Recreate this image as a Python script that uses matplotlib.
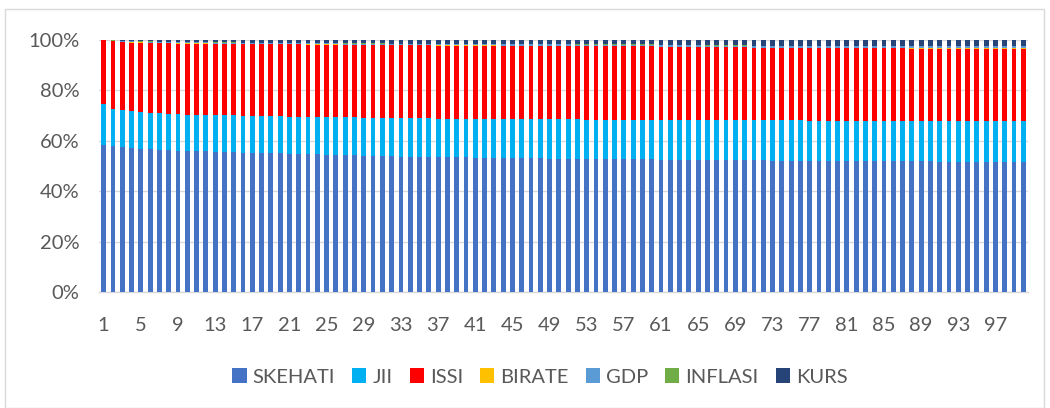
import matplotlib
matplotlib.use("Agg")
import matplotlib.pyplot as plt
from matplotlib.patches import Rectangle
import numpy as np

periods = list(range(1, 101))

skehati = [
    58.5, 57.9, 57.3, 57.0, 56.8, 56.5, 56.3, 56.2, 56.0, 55.9,
    55.8, 55.7, 55.6, 55.4, 55.3, 55.2, 55.1, 55.0, 54.9, 54.9,
    54.8, 54.7, 54.6, 54.5, 54.4, 54.3, 54.2, 54.1, 54.0, 53.9,
    53.8, 53.7, 53.6, 53.6, 53.5, 53.5, 53.5, 53.4, 53.3, 53.3,
    53.2, 53.2, 53.1, 53.1, 53.0, 53.0, 52.9, 52.9, 52.8, 52.8,
    52.8, 52.7, 52.7, 52.7, 52.6, 52.6, 52.6, 52.5, 52.5, 52.5,
    52.4, 52.4, 52.4, 52.3, 52.3, 52.3, 52.2, 52.2, 52.2, 52.1,
    52.1, 52.1, 52.0, 52.0, 52.0, 52.0, 51.9, 51.9, 51.9, 51.9,
    51.9, 51.8, 51.8, 51.8, 51.8, 51.7, 51.7, 51.7, 51.7, 51.7,
    51.6, 51.6, 51.6, 51.6, 51.6, 51.6, 51.6, 51.5, 51.5, 51.5,
]

jii = [
    16.0, 14.9, 14.7, 14.6, 14.5, 14.5, 14.5, 14.4, 14.4, 14.4,
    14.4, 14.5, 14.5, 14.6, 14.6, 14.6, 14.6, 14.7, 14.7, 14.7,
    14.7, 14.8, 14.8, 14.9, 15.0, 15.0, 15.0, 15.1, 15.1, 15.1,
    15.2, 15.2, 15.2, 15.2, 15.3, 15.3, 15.2, 15.3, 15.4, 15.4,
    15.5, 15.4, 15.5, 15.5, 15.5, 15.5, 15.6, 15.5, 15.6, 15.6,
    15.6, 15.7, 15.6, 15.6, 15.7, 15.7, 15.7, 15.8, 15.7, 15.7,
    15.8, 15.8, 15.8, 15.9, 15.9, 15.9, 15.9, 15.9, 15.9, 16.0,
    16.0, 16.0, 16.0, 16.0, 16.0, 16.0, 16.0, 16.0, 16.0, 16.0,
    16.0, 16.1, 16.1, 16.1, 16.1, 16.1, 16.1, 16.1, 16.1, 16.1,
    16.2, 16.2, 16.2, 16.2, 16.2, 16.2, 16.2, 16.3, 16.3, 16.3,
]

issi = [
    25.5, 26.7, 27.0, 27.3, 27.5, 27.7, 27.8, 28.0, 28.1, 28.2,
    28.2, 28.2, 28.2, 28.3, 28.4, 28.4, 28.5, 28.5, 28.5, 28.5,
    28.6, 28.6, 28.6, 28.6, 28.6, 28.7, 28.7, 28.7, 28.8, 28.9,
    28.8, 28.8, 28.9, 28.9, 28.9, 28.9, 28.9, 28.9, 28.9, 28.9,
    28.9, 29.0, 29.0, 28.9, 29.0, 29.0, 29.0, 29.1, 29.1, 29.1,
    29.0, 28.9, 29.0, 29.0, 29.0, 29.0, 29.0, 29.0, 29.1, 29.1,
    28.9, 28.9, 28.8, 28.8, 28.8, 28.7, 28.8, 28.8, 28.8, 28.8,
    28.6, 28.6, 28.7, 28.7, 28.7, 28.7, 28.8, 28.7, 28.7, 28.7,
    28.7, 28.7, 28.7, 28.7, 28.7, 28.7, 28.7, 28.6, 28.6, 28.6,
    28.6, 28.6, 28.6, 28.6, 28.6, 28.6, 28.6, 28.6, 28.6, 28.6,
]

birate = [0.0, 0.1] + [0.2] * 8 + [0.1] * 90

gdp = ([0.0, 0.1] + [0.3] * 8 + [0.4] * 20 + [0.5] * 20
       + [0.6] * 20 + [0.7] * 15 + [0.8] * 15)

inflasi = [0.0, 0.3] + [0.2] * 8 + [0.1] * 90

kurs = [
    0.0, 0.0, 0.2, 0.3, 0.4, 0.5, 0.6, 0.6, 0.7, 0.7,
    0.8, 0.8, 0.9, 0.9, 0.9, 1.0, 1.0, 1.0, 1.1, 1.1,
    1.1, 1.1, 1.2, 1.2, 1.2, 1.2, 1.3, 1.3, 1.3, 1.3,
    1.3, 1.4, 1.4, 1.4, 1.4, 1.4, 1.5, 1.5, 1.5, 1.5,
    1.5, 1.5, 1.5, 1.6, 1.6, 1.6, 1.6, 1.6, 1.6, 1.6,
    1.6, 1.7, 1.7, 1.7, 1.7, 1.7, 1.7, 1.7, 1.7, 1.7,
    1.9, 1.9, 2.0, 2.0, 2.0, 2.1, 2.1, 2.1, 2.1, 2.1,
    2.2, 2.2, 2.2, 2.2, 2.2, 2.2, 2.2, 2.3, 2.3, 2.3,
    2.3, 2.3, 2.3, 2.3, 2.3, 2.3, 2.3, 2.4, 2.4, 2.4,
    2.4, 2.4, 2.4, 2.4, 2.4, 2.4, 2.4, 2.4, 2.4, 2.4,
]

series_names = ["SKEHATI", "JII", "ISSI", "BIRATE", "GDP", "INFLASI", "KURS"]
series_values = [skehati, jii, issi, birate, gdp, inflasi, kurs]
series_colors = ["#4472C4", "#00B0F0", "#FF0000", "#FFC000", "#5B9BD5", "#70AD47", "#264478"]

x_tick_labels = [str(p) for p in periods[::4]]

# 100% stacked: each period's shares are rescaled to sum to one
data = np.array(series_values, dtype=float)
shares = data / data.sum(axis=0)

text_color = "#595959"
plt.rcParams["font.family"] = ["Lato", "DejaVu Sans"]

fig = plt.figure(figsize=(10.5, 4.08), dpi=100)
W, H = 1050, 408
ax = fig.add_axes([99 / W, 1 - 292 / H, (1028 - 99) / W, (292 - 40) / H])

x = np.array(periods)
bottom = np.zeros(len(periods))
for name, vals, color in zip(series_names, shares, series_colors):
    ax.bar(x, vals, width=0.52, bottom=bottom, color=color, label=name,
           linewidth=0, zorder=3)
    bottom += vals

ax.set_xlim(0.5, 100.5)
ax.set_ylim(0, 1)
ax.set_yticks(np.arange(0, 1.01, 0.2))
ax.set_yticklabels([f"{int(round(v * 100))}%" for v in np.arange(0, 1.01, 0.2)])
ax.set_xticks(periods[::4])
ax.set_xticklabels(x_tick_labels)
ax.grid(axis="y", color="#D9D9D9", linewidth=1.0, zorder=0)
ax.tick_params(axis="both", length=0, labelsize=14.5, colors=text_color)
ax.tick_params(axis="x", pad=18)
ax.tick_params(axis="y", pad=14)
for side in ("top", "right", "left"):
    ax.spines[side].set_visible(False)
ax.spines["bottom"].set_color("#D9D9D9")
ax.spines["bottom"].set_linewidth(1.0)

handles, labels = ax.get_legend_handles_labels()
leg = fig.legend(handles, labels, loc="center", bbox_to_anchor=(540 / W, 1 - 377 / H),
                 ncol=7, frameon=False, fontsize=14.5, handlelength=0.7, handleheight=0.7,
                 handletextpad=0.3, columnspacing=0.85)
for t in leg.get_texts():
    t.set_color(text_color)

# chart area border
fig.patches.append(Rectangle((5 / W, 0), (1044 - 5) / W, 1 - 9 / H, transform=fig.transFigure,
                             fill=False, edgecolor="#D9D9D9", linewidth=1.0))

fig.savefig("out.png", dpi=100)
